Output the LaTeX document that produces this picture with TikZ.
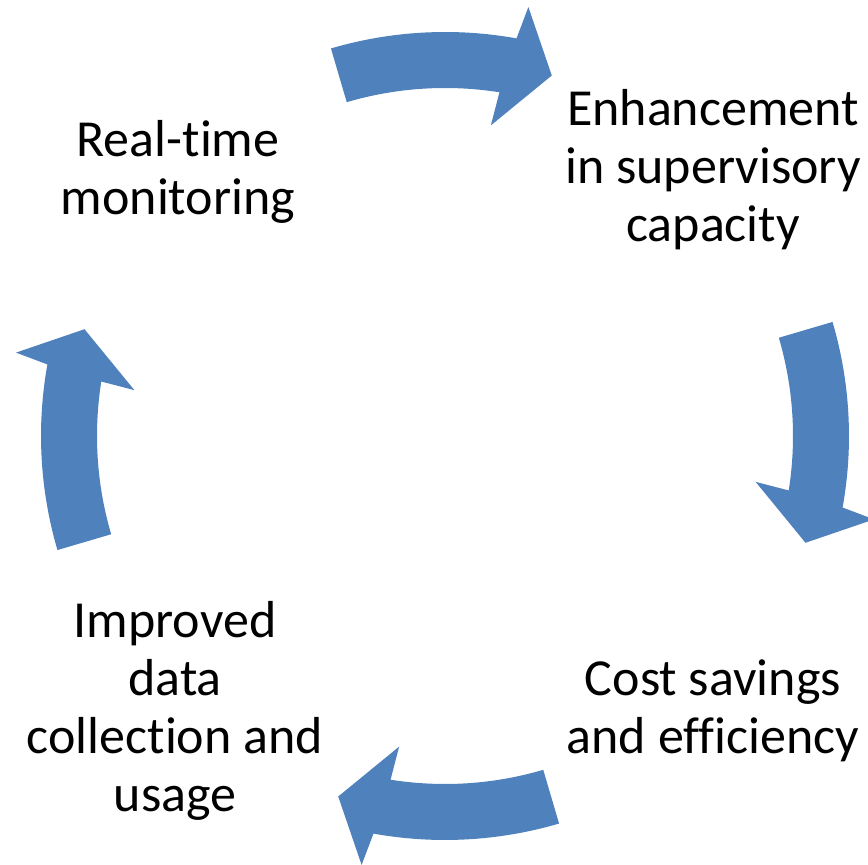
\documentclass[tikz,border=0pt]{standalone}
\usepackage{fontspec}
\setmainfont{Carlito}[Ligatures=CommonOff]
\definecolor{cycleblue}{RGB}{79,129,189}
\begin{document}
\begin{tikzpicture}[x=1pt,y=1pt,
  cyclearrow/.style={fill=cycleblue, draw=none},
  stage/.style={align=center, font=\fontsize{52}{58}\selectfont, inner sep=0pt, text=black}]
\useasboundingbox (0,0) rectangle (868,865);
\coordinate (hub) at (445,429);
% four curved block arrows running clockwise round the hub
\foreach \a in {90,0,-90,180} {
  \fill[cyclearrow]
    ([shift={(hub)}]\a+16.4:404) arc[start angle=\a+16.4, end angle=\a-10.2, radius=404]
    -- ([shift={(hub)}]\a-11:437)
    -- ([shift={(hub)}]\a-16.5:376)
    -- ([shift={(hub)}]\a-8.4:314)
    -- ([shift={(hub)}]\a-9:348)
    arc[start angle=\a-9, end angle=\a+16.4, radius=348] -- cycle;
}
% stage labels on the diagonals
\node[stage] (monitor)   at (178,693) {Real-time\\monitoring};
\node[stage] (supervise) at (713,695) {Enhancement\\in supervisory\\capacity};
\node[stage] (savings)   at (713,154) {Cost savings\\and efficiency};
\node[stage] (data)      at (175,154) {Improved\\data\\collection and\\usage};
\end{tikzpicture}
\end{document}
